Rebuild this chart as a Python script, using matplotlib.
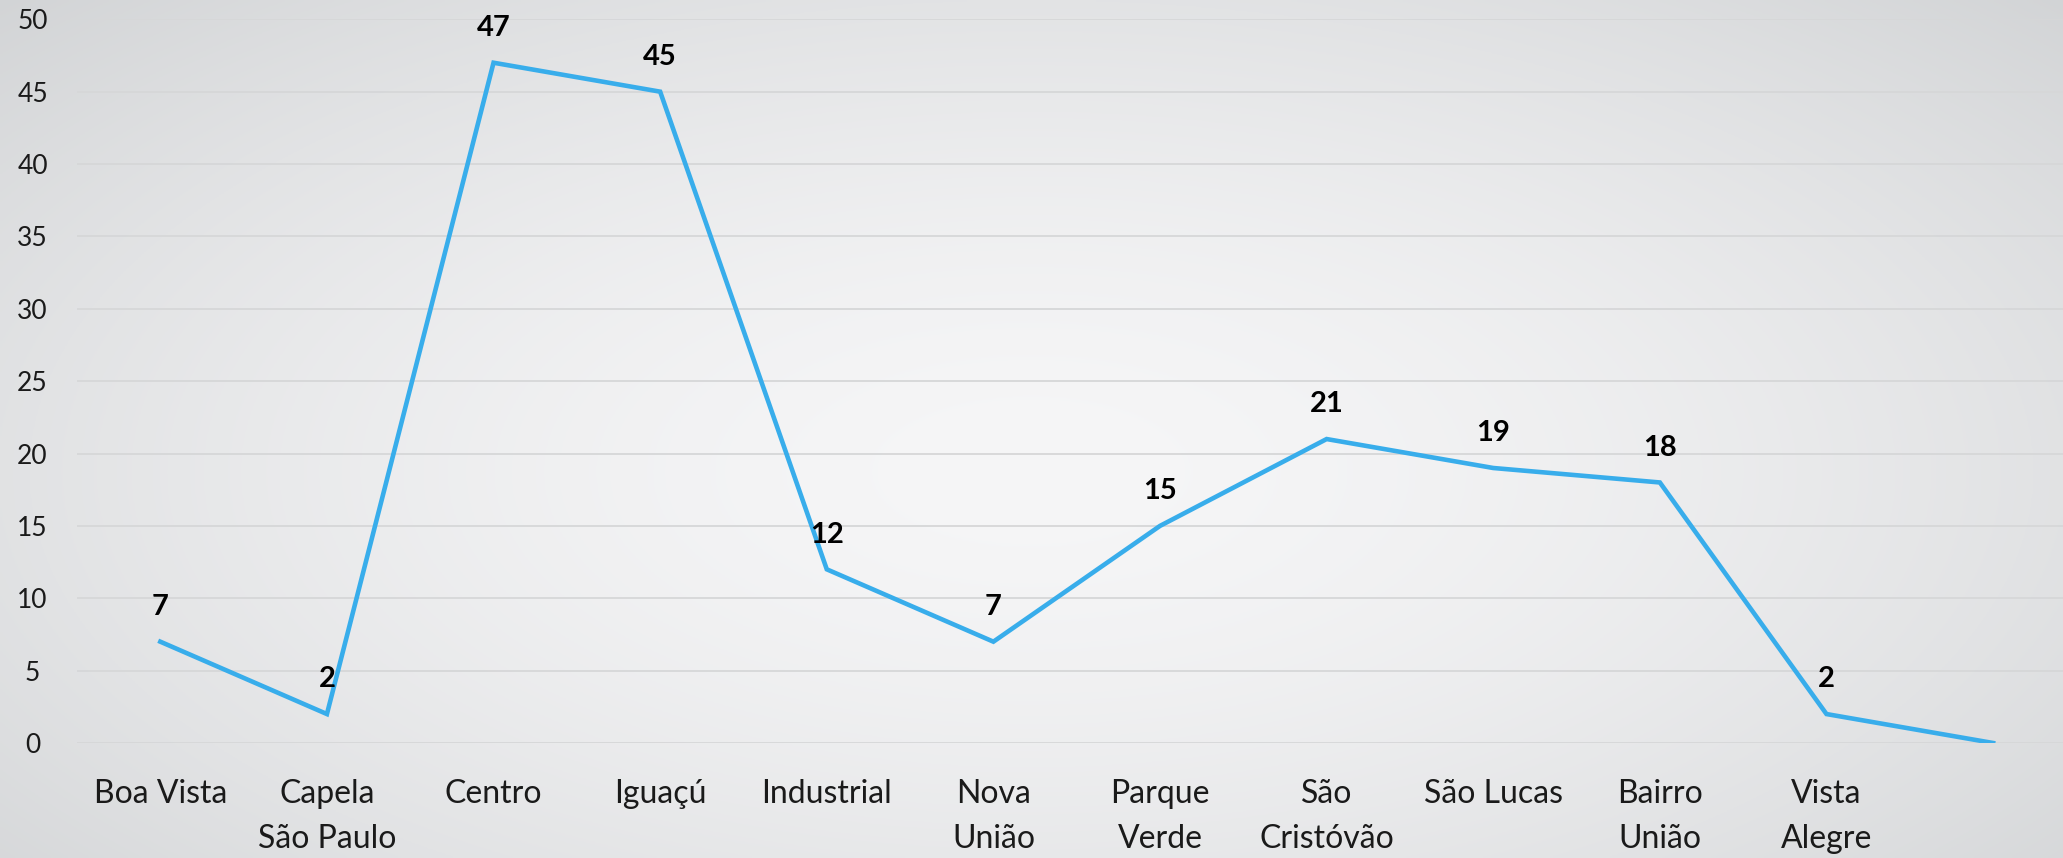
import numpy as np
import matplotlib
matplotlib.use("Agg")
import matplotlib.pyplot as plt

# data
bairros = ["Boa Vista", "Capela\nSão Paulo", "Centro", "Iguaçú", "Industrial",
           "Nova\nUnião", "Parque\nVerde", "São\nCristóvão", "São Lucas",
           "Bairro\nUnião", "Vista\nAlegre", ""]
casos = [7, 2, 47, 45, 12, 7, 15, 21, 19, 18, 2, 0]
rotulos = ["7", "2", "47", "45", "12", "7", "15", "21", "19", "18", "2", ""]
yticks = np.arange(0, 55, 5)

plt.rcParams['font.family'] = ['Lato', 'DejaVu Sans']

W, H = 2063, 858
fig = plt.figure(figsize=(W / 100, H / 100), dpi=100)

# radial gray background
bg = fig.add_axes([0, 0, 1, 1], zorder=0)
yy, xx = np.mgrid[0:1:300j, 0:1:700j]
r = np.sqrt(((xx - 0.5) / 0.75) ** 2 + ((yy - 0.45) / 0.85) ** 2)
r = np.clip(r, 0, 1)
c_in = np.array([246, 246, 247]) / 255
c_out = np.array([206, 208, 210]) / 255
img = c_in + (c_out - c_in) * (r[..., None] ** 1.6)
bg.imshow(img, extent=[0, 1, 0, 1], aspect='auto', origin='lower')
bg.axis('off')

left, right = 77 / W, 1.0
bottom, top = 1 - 743 / H, 1 - 19.3 / H
ax = fig.add_axes([left, bottom, right - left, top - bottom], zorder=1)
ax.patch.set_alpha(0)

x = np.arange(len(bairros))
ax.plot(x, casos, color='#38ADEB', lw=3.3, solid_joinstyle='miter', zorder=3)

for xi, v, t in zip(x, casos, rotulos):
    if t:
        ax.annotate(t, (xi, v), xytext=(0, 25), textcoords='offset points',
                    ha='center', va='center', fontsize=21, fontweight='bold',
                    color='black')

ax.set_xlim(-0.5, (2063 - 160.5) / 166.6)
ax.set_ylim(0, 50)
ax.set_yticks(yticks)
ax.set_yticklabels([str(v) for v in yticks])
ax.set_xticks(x)
ax.set_xticklabels(bairros)
ax.grid(axis='y', color='#D6D7D8', lw=1.3)
ax.set_axisbelow(True)
for s in ax.spines.values():
    s.set_visible(False)
ax.tick_params(axis='both', length=0)
ax.tick_params(axis='x', labelsize=23, pad=26, colors='#1a1a1a')
ax.tick_params(axis='y', labelsize=19, pad=32, colors='#1a1a1a')
for lab in ax.get_yticklabels():
    lab.set_horizontalalignment('center')
for lab in ax.get_xticklabels():
    lab.set_linespacing(1.62)

fig.savefig("out.png", dpi=100)
